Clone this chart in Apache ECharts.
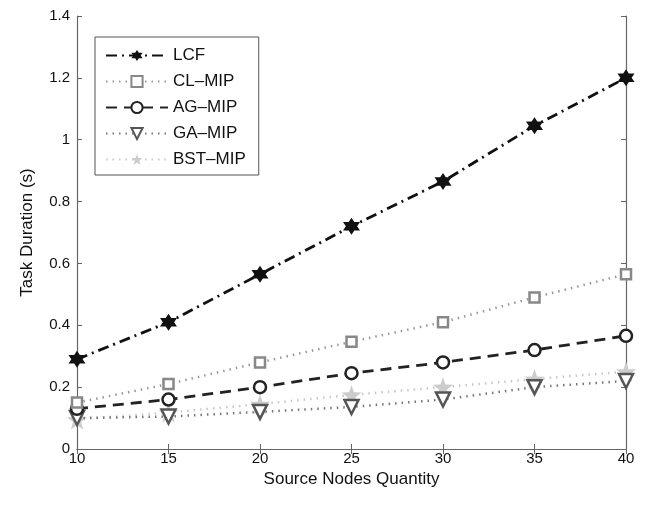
<!DOCTYPE html>
<html>
<head>
<meta charset="utf-8">
<script src="https://cdn.jsdelivr.net/npm/echarts@6/dist/echarts.min.js"></script>
<style>html,body{margin:0;padding:0;background:#fff}#c{width:646px;height:506px}</style>
</head>
<body>
<div id="c"></div>
<script>
var sourceNodes = [10, 15, 20, 25, 30, 35, 40];
var lcf = [0.29, 0.41, 0.565, 0.72, 0.865, 1.045, 1.2];
var clMip = [0.15, 0.21, 0.28, 0.347, 0.41, 0.49, 0.565];
var agMip = [0.13, 0.16, 0.20, 0.245, 0.28, 0.32, 0.366];
var gaMip = [0.10, 0.105, 0.12, 0.136, 0.16, 0.20, 0.22];
var bstMip = [0.095, 0.118, 0.145, 0.175, 0.20, 0.226, 0.25];
var seriesNames = ['LCF', 'CL–MIP', 'AG–MIP', 'GA–MIP', 'BST–MIP'];
var yTicks = [0, 0.2, 0.4, 0.6, 0.8, 1, 1.2, 1.4];

function pairs(vals) { return sourceNodes.map(function (x, i) { return [x, vals[i]]; }); }

var hexagram = 'path://M0,-10 L2.89,-5 L8.66,-5 L5.77,0 L8.66,5 L2.89,5 L0,10 L-2.89,5 L-8.66,5 L-5.77,0 L-8.66,-5 L-2.89,-5 Z';
var star5 = 'path://M0,-10 L2.35,-3.24 L9.51,-3.09 L3.8,1.24 L5.88,8.09 L0,4 L-5.88,8.09 L-3.8,1.24 L-9.51,-3.09 L-2.35,-3.24 Z';
var triDown = 'path://M-9,-7 L9,-7 L0,9 Z';

var chart = echarts.init(document.getElementById('c'), null, {renderer: 'canvas'});
var axisColor = '#666';
var font = 'Liberation Sans, Arial, Helvetica, sans-serif';
chart.setOption({
  animation: false,
  backgroundColor: '#fff',
  grid: {left: 77, right: 20, top: 16, bottom: 57, show: false},
  legend: {
    orient: 'vertical',
    left: 95, top: 37,
    padding: [10, 13, 7, 10],
    itemWidth: 62, itemHeight: 14, itemGap: 9,
    borderColor: '#555', borderWidth: 1,
    backgroundColor: '#fff',
    textStyle: {fontFamily: font, fontSize: 17, color: '#111'},
    data: seriesNames
  },
  xAxis: [{
    type: 'value', min: 10, max: 40, interval: 5,
    name: 'Source Nodes Quantity', nameLocation: 'middle', nameGap: 20,
    nameTextStyle: {fontFamily: font, fontSize: 17, color: '#111'},
    axisLine: {lineStyle: {color: axisColor, width: 1.2}},
    axisTick: {inside: true, length: 5, lineStyle: {color: axisColor}},
    axisLabel: {fontFamily: font, fontSize: 15, color: '#111', margin: 2},
    splitLine: {show: false}
  }, {
    type: 'value', min: 10, max: 40, interval: 5, position: 'top',
    axisLine: {show: true, lineStyle: {color: axisColor, width: 1.2}},
    axisTick: {inside: true, length: 5, lineStyle: {color: axisColor}},
    axisLabel: {show: false}, splitLine: {show: false}
  }],
  yAxis: [{
    type: 'value', min: 0, max: 1.4, interval: 0.2,
    name: 'Task Duration (s)', nameLocation: 'middle', nameGap: 41,
    nameTextStyle: {fontFamily: font, fontSize: 17, color: '#111'},
    axisLine: {show: true, lineStyle: {color: axisColor, width: 1.2}},
    axisTick: {show: true, inside: true, length: 5, lineStyle: {color: axisColor}},
    axisLabel: {fontFamily: font, fontSize: 15, color: '#111', margin: 7,
      formatter: function (v) { var r = Math.round(v * 10) / 10; return yTicks.indexOf(r) >= 0 ? String(r) : ''; }},
    splitLine: {show: false}
  }, {
    type: 'value', min: 0, max: 1.4, interval: 0.2, position: 'right',
    axisLine: {show: true, lineStyle: {color: axisColor, width: 1.2}},
    axisTick: {show: true, inside: true, length: 5, lineStyle: {color: axisColor}},
    axisLabel: {show: false}, splitLine: {show: false}
  }],
  series: [
    {
      name: seriesNames[4], type: 'line', data: pairs(bstMip), z: 2,
      symbol: star5, symbolSize: 20,
      lineStyle: {color: '#c8c8c8', width: 2.5, type: [1.5, 5]},
      itemStyle: {color: '#cccccc', borderWidth: 0}
    },
    {
      name: seriesNames[3], type: 'line', data: pairs(gaMip), z: 3,
      symbol: triDown, symbolSize: 14,
      lineStyle: {color: '#777', width: 2.5, type: [1.5, 5]},
      itemStyle: {color: '#fff', borderColor: '#555', borderWidth: 2.5}
    },
    {
      name: seriesNames[2], type: 'line', data: pairs(agMip), z: 4,
      symbol: 'circle', symbolSize: 12,
      lineStyle: {color: '#222', width: 2.8, type: [11, 7]},
      itemStyle: {color: '#fff', borderColor: '#222', borderWidth: 2.5}
    },
    {
      name: seriesNames[1], type: 'line', data: pairs(clMip), z: 5,
      symbol: 'rect', symbolSize: 10,
      lineStyle: {color: '#999', width: 2.5, type: [1.5, 5]},
      itemStyle: {color: '#fff', borderColor: '#888', borderWidth: 2.5}
    },
    {
      name: seriesNames[0], type: 'line', data: pairs(lcf), z: 6,
      symbol: hexagram, symbolSize: 17,
      lineStyle: {color: '#111', width: 2.8, type: [11, 5, 2, 5]},
      itemStyle: {color: '#111', borderWidth: 0}
    }
  ]
});
</script>
</body>
</html>
